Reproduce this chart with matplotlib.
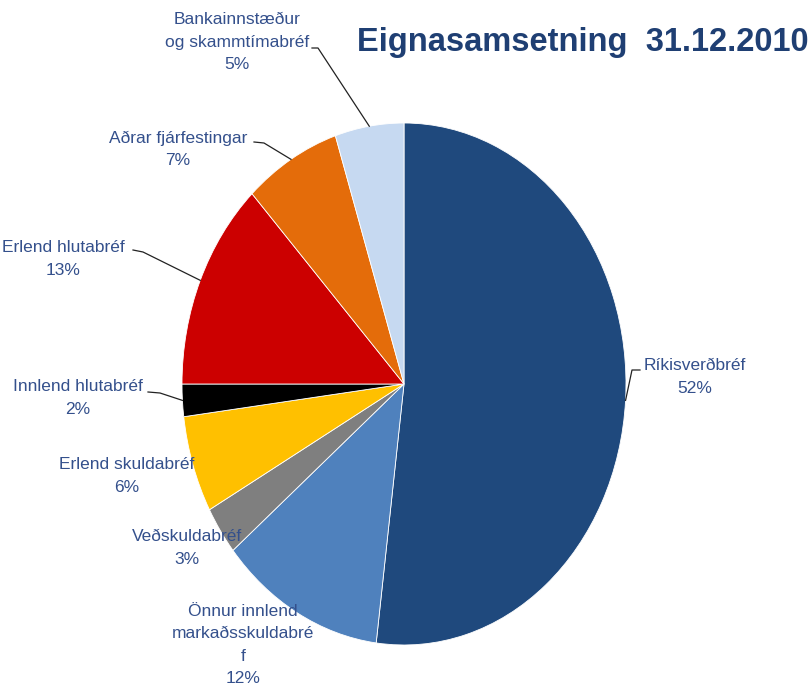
import numpy as np
import matplotlib.pyplot as plt

labels = ['Ríkisverðbréf', 'Önnur innlend\nmarkaðsskuldabré\nf', 'Veðskuldabréf',
          'Erlend skuldabréf', 'Innlend hlutabréf', 'Erlend hlutabréf',
          'Aðrar fjárfestingar', 'Bankainnstæður\nog skammtímabréf']
shares = [52, 12, 3, 6, 2, 13, 7, 5]
colors = ['#1F497D', '#4F81BD', '#7F7F7F', '#FFC000', '#000000', '#CC0000',
          '#E46C0A', '#C6D9F1']

W, H = 811, 695
cx, cy, rx, ry = 404, 384, 222, 261   # pie centre / radii in pixels

def px(x, y):
    # pixel position -> data coordinates
    return (x - cx) / rx, (cy - y) / ry

plt.rcParams['font.family'] = ['Liberation Sans', 'DejaVu Sans']

fig = plt.figure(figsize=(W / 100, H / 100), dpi=100)
ax = fig.add_axes([0, 0, 1, 1])
wedges, _ = ax.pie(shares, colors=colors, startangle=90, counterclock=False,
                   wedgeprops=dict(edgecolor='white', linewidth=0.6))
ax.set_aspect('auto')
ax.set_xlim(px(0, 0)[0], px(W, 0)[0])
ax.set_ylim(px(0, H)[1], px(0, 0)[1])
ax.axis('off')

# label centre (px), and optional leader elbow points (px)
label_pos = [(695, 377), (243, 645), (187, 548), (127, 476), (78, 398),
             (63, 259), (178, 149), (237, 42)]
leaders = [[(640, 370), (632, 370)], None, None, None, [(148, 392), (160, 393)],
           [(133, 250), (143, 252)], [(254, 142), (264, 143)],
           [(312, 48), (318, 48)]]

txt_color = '#34508C'
for w, lab, val, pos, ld in zip(wedges, labels, shares, label_pos, leaders):
    x, y = px(*pos)
    ax.text(x, y, f'{lab}\n{val}%', ha='center', va='center', fontsize=12.5,
            color=txt_color, linespacing=1.6)
    if ld:
        mid = np.deg2rad((w.theta1 + w.theta2) / 2)
        ex, ey = np.cos(mid), np.sin(mid)
        pts = [px(*p) for p in ld] + [(ex, ey)]
        ax.plot([p[0] for p in pts], [p[1] for p in pts], color='#222222', lw=0.9)

fig.text(357 / W, 1 - 43 / H, 'Eignasamsetning  31.12.2010', fontsize=23.5,
         fontweight='bold', color='#1F3F73', ha='left', va='center')

fig.savefig('out.png', dpi=100)
